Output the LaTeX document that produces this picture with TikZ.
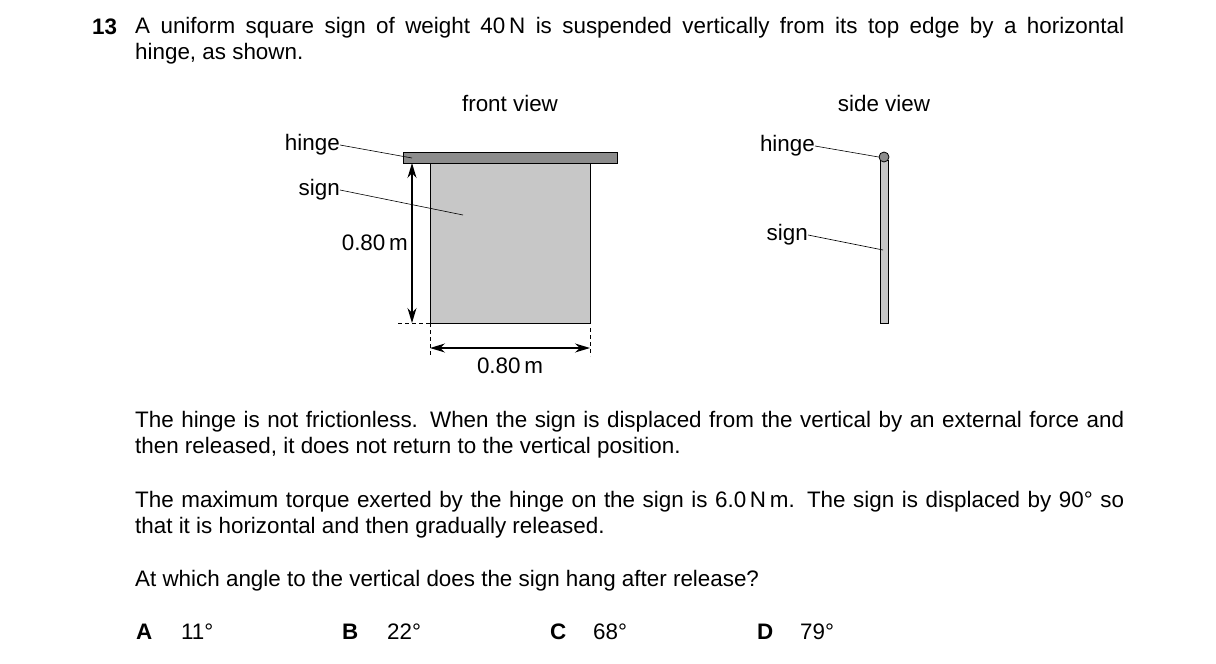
\documentclass[tikz,border=0pt]{standalone}
\usepackage{fontspec}
\setmainfont{Liberation Sans}
\usetikzlibrary{arrows.meta}
\begin{document}
\begin{tikzpicture}[x=1pt,y=-1pt,
 txt/.style={inner sep=0,font=\fontsize{22.4}{26}\selectfont},
 par/.style={txt,anchor=north west,text width=989pt,align=justify},
 lbl/.style={txt,font=\fontsize{22.4}{26}\selectfont},
 lead/.style={line width=0.6pt},
 dim/.style={line width=1.2pt,{Stealth[length=15pt,width=9pt]}-{Stealth[length=15pt,width=9pt]}},
 ext/.style={line width=0.5pt,dash pattern=on 4pt off 3pt}]
\useasboundingbox (0,0) rectangle (1216,664);
\node[txt,anchor=base west,font=\fontsize{22.4}{26}\selectfont\bfseries] (num) at (92,34) {13};
\node[par] (p1) at (135,17) {A uniform square sign of weight 40\,N is suspended vertically from its top edge by a horizontal\linebreak hinge, as shown.};
\node[par] (p2) at (135,411) {The hinge is not frictionless. When the sign is displaced from the vertical by an external force and\linebreak then released, it does not return to the vertical position.};
\node[par] (p3) at (135,491) {The maximum torque exerted by the hinge on the sign is 6.0\,N\,m. The sign is displaced by 90° so\linebreak that it is horizontal and then gradually released.};
\node[par] (p4) at (135,570) {At which angle to the vertical does the sign hang after release?};
\foreach \l/\x/\v/\xv in {A/136/11/181,B/342/22/387,C/550/68/593,D/757/79/800}{
 \node[txt,anchor=base west,font=\fontsize{22.4}{26}\selectfont\bfseries] (o\l) at (\x,639) {\l};
 \node[txt,anchor=base west] (v\l) at (\xv,639) {\v°};}
% front view
\node[lbl] (fv) at (510,103) {front view};
\node[lbl] (sv) at (884,103) {side view};
\node[draw,line width=1pt,fill=black!45,minimum width=214pt,minimum height=11pt,inner sep=0,anchor=north west] (bar) at (403,152) {};
\node[draw,line width=1pt,fill=black!22,minimum width=160pt,minimum height=160pt,inner sep=0,anchor=north west] (sign) at (430,163) {};
\coordinate (vt) at (412,163); \coordinate (vb) at (412,323);
\draw[dim] (vt) -- (vb);
\draw[ext] (398,323) -- (430,323);
\draw[ext] (430,323) -- (430,356);
\draw[ext] (590,328) -- (590,356);
\coordinate (hl) at (430,348); \coordinate (hr) at (590,348);
\draw[dim] (hl) -- (hr);
\node[lbl] (w) at (510,366) {0.80\,m};
\node[lbl,anchor=east] (h) at (408,243) {0.80\,m};
\node[lbl,anchor=east] (lh) at (340,145) {hinge};
\coordinate (ph) at (412,158);
\draw[lead] (lh.east) -- (ph);
\node[lbl,anchor=east] (ls) at (340,190) {sign};
\coordinate (ps) at (463,215);
\draw[lead] (ls.east) -- (ps);
% side view
\node[draw,line width=1pt,fill=black!22,minimum width=8pt,minimum height=163pt,inner sep=0,anchor=north west] (rod) at (880,160) {};
\node[draw,line width=0.8pt,fill=black!45,circle,minimum size=10pt,inner sep=0] (hc) at (884,157) {};
\node[lbl,anchor=east] (lh2) at (815,146) {hinge};
\draw[lead] (lh2.east) -- (hc.west);
\node[lbl,anchor=east] (ls2) at (808,235) {sign};
\coordinate (ps2) at (883,250);
\draw[lead] (ls2.east) -- (ps2);
\end{tikzpicture}
\end{document}
